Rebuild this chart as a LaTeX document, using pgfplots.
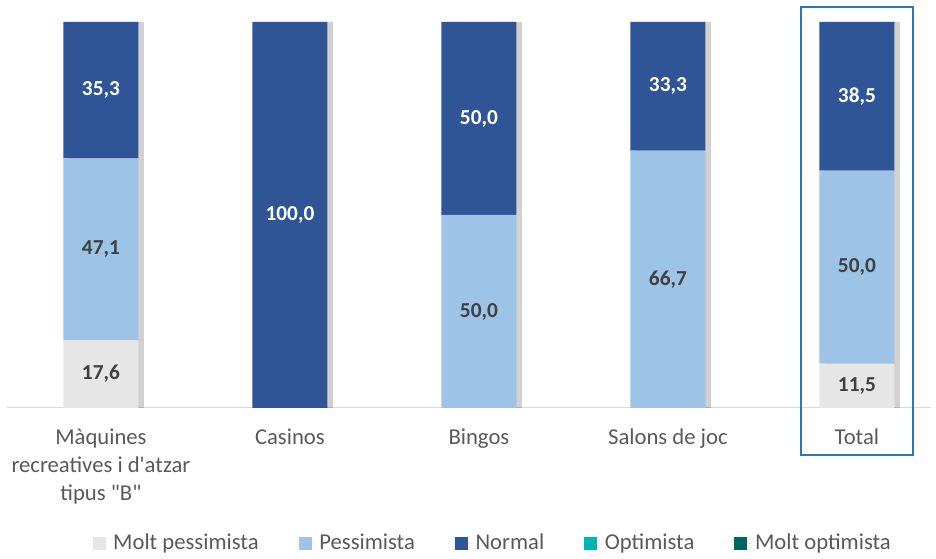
\documentclass[border=0pt]{standalone}
\usepackage{pgfplots}
\pgfplotsset{compat=1.18}
\usepackage{fontspec}
\setmainfont{Carlito}
\newfontfamily\qf{Carlito}
\usetikzlibrary{shadows}
\definecolor{mp}{HTML}{E7E6E6}
\definecolor{pe}{HTML}{9DC3E6}
\definecolor{no}{HTML}{2F5597}
\definecolor{op}{HTML}{00B6AE}
\definecolor{mo}{HTML}{00665F}
\definecolor{txt}{HTML}{595959}
\definecolor{lab}{HTML}{404040}
\definecolor{boxc}{HTML}{2E75B6}
\pgfplotsset{
  base/.style={
    scale only axis, width=693pt, height=289.5pt,
    xmin=-0.497, xmax=4.392, ymin=0, ymax=100,
    at={(5.25pt,113.25pt)}, anchor=south west,
  },
  shad/.style={drop shadow={shadow xshift=4pt, shadow yshift=0pt, opacity=0.18, fill=black}}
}
\begin{document}
\begin{tikzpicture}
\useasboundingbox (0,0) rectangle (702pt,419.25pt);
\begin{axis}[base, ybar stacked, bar width=56.25pt,
  hide y axis, axis x line=bottom,
  x axis line style={-, draw=black!15, line width=0.75pt},
  xtick={0,1,2,3,4}, major tick length=0pt,
  xticklabels={{Màquines\\recreatives i d{\qf '}atzar\\tipus {\qf "}B{\qf "}}, Casinos, Bingos, Salons de joc, Total},
  xticklabel style={align=center, font=\fontsize{17}{21}\selectfont, text=txt, anchor=north, yshift=-12pt},
  clip=false,
  legend columns=5,
  legend style={at={(0.526,-0.35)}, anchor=center, draw=none, fill=none,
    font=\fontsize{17}{20}\selectfont, text=txt,
    /tikz/every even column/.append style={column sep=28pt}},
  legend image code/.code={\path (0pt,0pt) -- (13.5pt,0pt);\fill[#1] (0pt,-4.9pt) rectangle (9.75pt,4.9pt);},
]
\addplot[fill=mp, draw=none, forget plot, shad] coordinates {(0,17.6) (1,0) (2,0) (3,0) (4,11.5)};
\addplot[fill=pe, draw=none, forget plot, shad] coordinates {(0,47.1) (1,0) (2,50.0) (3,66.7) (4,50.0)};
\addplot[fill=no, draw=none, forget plot, shad] coordinates {(0,35.3) (1,100.0) (2,50.0) (3,33.3) (4,38.5)};
\addlegendimage{fill=mp, draw=none}
\addlegendentry{Molt pessimista}
\addlegendimage{fill=pe, draw=none}
\addlegendentry{Pessimista}
\addlegendimage{fill=no, draw=none}
\addlegendentry{Normal}
\addlegendimage{fill=op, draw=none}
\addlegendentry{Optimista}
\addlegendimage{fill=mo, draw=none}
\addlegendentry{Molt optimista}
\draw[boxc, line width=1.5pt] (axis cs:3.704,103.9) rectangle (axis cs:4.296,-12.2);
\end{axis}
\begin{axis}[base, hide axis, clip=false]
\addplot[draw=none, nodes near coords, point meta=explicit symbolic,
  nodes near coords style={anchor=center, font=\bfseries\fontsize{16}{19}\selectfont, text=lab}]
  table[meta=l] {
x y l
0 8.8 17,6
0 41.15 47,1
2 25.0 50,0
3 33.35 66,7
4 5.75 11,5
4 36.5 50,0
};
\addplot[draw=none, nodes near coords, point meta=explicit symbolic,
  nodes near coords style={anchor=center, font=\bfseries\fontsize{16}{19}\selectfont, text=white}]
  table[meta=l] {
x y l
0 82.35 35,3
1 50.0 100,0
2 75.0 50,0
3 83.35 33,3
4 80.75 38,5
};
\end{axis}
\end{tikzpicture}
\end{document}
